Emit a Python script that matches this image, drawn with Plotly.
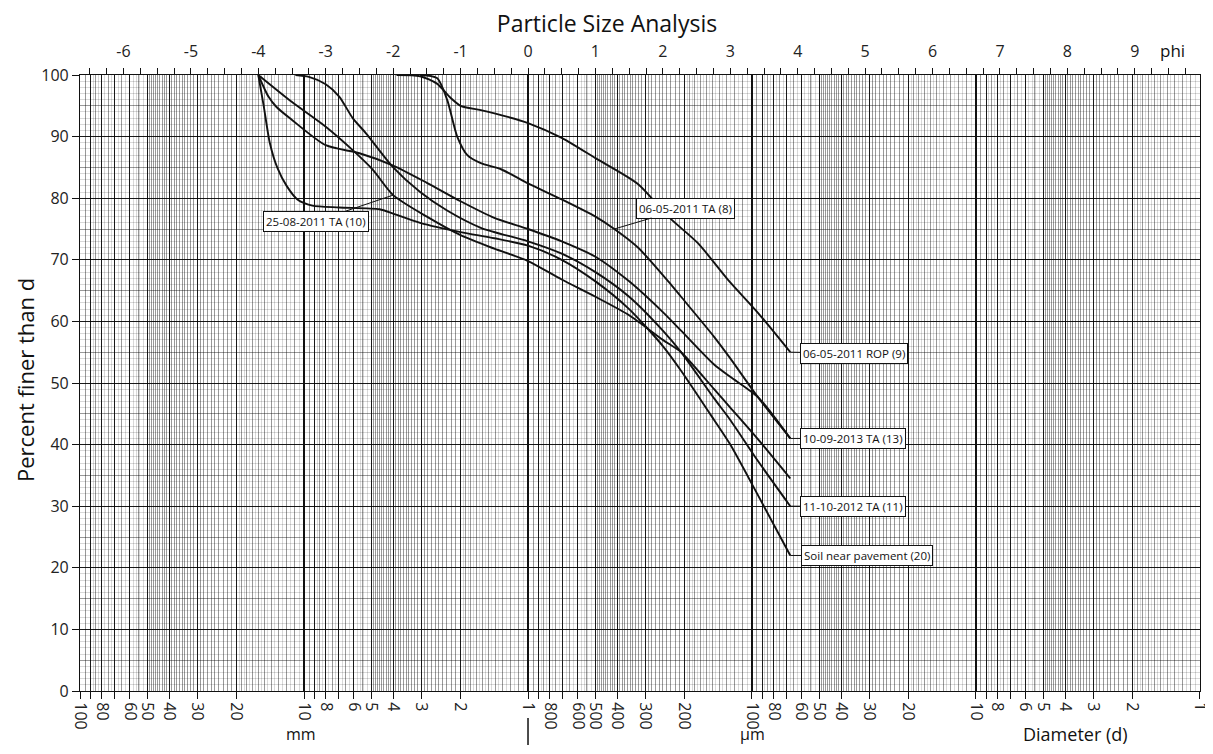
import math
import plotly.graph_objects as go

# ---------------- data: (phi, percent finer) ----------------
rop9_phi = [-1.95, -1.6, -1.35, -1.15, -1.0, -0.7, -0.3, 0.0, 0.5, 1.0, 1.63, 2.08, 2.52, 2.97, 3.41, 3.89]
rop9_pct = [100, 99.8, 98.6, 96.3, 95.0, 94.3, 93.2, 92.2, 89.8, 86.5, 82.3, 77.0, 72.7, 66.7, 61.4, 55.0]

ta8_phi = [-1.6, -1.35, -1.2, -1.05, -0.9, -0.7, -0.4, 0.0, 0.5, 1.0, 1.28, 1.63, 2.08, 2.27, 2.76, 3.0, 3.41, 3.89]
ta8_pct = [100, 99.5, 96, 90, 87, 85.7, 84.7, 82.4, 79.8, 77, 75, 72, 66.5, 64, 57.5, 54, 47.7, 41]

ta13_phi = [-4, -3.85, -3.73, -3.5, -3.0, -2.5, -2.0, -1.5, -1.0, -0.5, 0, 0.5, 1.0, 1.5, 2.0, 2.27, 2.76, 3.0, 3.41, 3.89]
ta13_pct = [100, 96.5, 94.8, 92.7, 88.6, 87.3, 85.3, 82.5, 79.5, 76.8, 75, 73, 70.5, 66.5, 61.5, 58.5, 53, 51, 47.7, 41]

ta10_phi = [-4, -3.5, -3.0, -2.6, -2.3, -2.0, -1.5, -1.0, -0.5, 0, 0.5, 1.0, 1.5, 2.0, 2.27, 2.76, 3.0, 3.4, 3.89]
ta10_pct = [100, 95.6, 91.6, 87.8, 84.6, 80.5, 77, 74, 71.8, 69.8, 66.8, 64, 61, 57, 55, 49, 46, 41, 34.5]

ta11_phi = [-3.45, -3.25, -3.0, -2.8, -2.6, -2.4, -2.0, -1.6, -1.2, -0.7, 0, 0.5, 1.0, 1.5, 2.0, 2.27, 2.76, 3.0, 3.4, 3.89]
ta11_pct = [100, 99.7, 98.5, 96.5, 93, 90.5, 85, 81, 78, 75.2, 73, 71, 68, 64, 58.5, 55, 47.5, 44, 37.5, 30]

soil20_phi = [-4, -3.92, -3.83, -3.72, -3.58, -3.42, -3.2, -2.8, -2.2, -2.0, -1.6, -1.0, -0.5, 0, 0.5, 1.0, 1.5, 2.0, 2.27, 2.76, 3.0, 3.4, 3.89]
soil20_pct = [100, 95, 89, 85, 82, 79.8, 78.8, 78.5, 78.2, 77.5, 76, 74.5, 73.5, 72.3, 70, 66.5, 62, 56, 52, 44, 40, 32, 22]

curves = [
    (rop9_phi, rop9_pct),
    (ta8_phi, ta8_pct),
    (ta13_phi, ta13_pct),
    (ta10_phi, ta10_pct),
    (ta11_phi, ta11_pct),
    (soil20_phi, soil20_pct),
]

# bottom axis (diameter, mm) tick values and labels
d_tickvals = [100, 90, 80, 70, 60, 50, 40, 30, 20,
              10, 9, 8, 7, 6, 5, 4, 3, 2,
              1, 0.9, 0.8, 0.7, 0.6, 0.5, 0.4, 0.3, 0.2,
              0.1, 0.09, 0.08, 0.07, 0.06, 0.05, 0.04, 0.03, 0.02,
              0.01, 0.009, 0.008, 0.007, 0.006, 0.005, 0.004, 0.003, 0.002, 0.001]
d_ticktext = ["100", "", "80", "", "60", "50", "40", "30", "20",
              "10", "", "8", "", "6", "5", "4", "3", "2",
              "1", "", "800", "", "600", "500", "400", "300", "200",
              "100", "", "80", "", "60", "50", "40", "30", "20",
              "10", "", "8", "", "6", "5", "4", "3", "2", "1"]

# top axis (phi) tick values
phi_ticks = [i * 0.25 for i in range(-26, 40)]
phi_text = [str(int(v)) if float(v).is_integer() else "" for v in phi_ticks]

# labels on the curves: text, phi, percent, offset x, offset y (px)
labels = [
    ("06-05-2011 ROP (9)", 3.89, 55.0, 64, 1),
    ("10-09-2013 TA (13)", 3.89, 41.0, 63, 0),
    ("11-10-2012 TA (11)", 3.89, 30.0, 63, 0),
    ("Soil near pavement (20)", 3.89, 22.0, 77, 0),
    ("25-08-2011 TA (10)", -2.0, 80.5, -77, 26),
    ("06-05-2011 TA (8)", 1.28, 75.0, 71, -21),
]

# ---------------- grid value lists ----------------
decades = [100, 10, 1, 0.1, 0.01, 0.001]
medium, light = [], []
for e in [1, 0, -1, -2, -3]:
    b = 10.0 ** e
    for i in range(11, 50):            # 1.1 .. 4.9 every 0.1
        if i % 10 != 0:
            medium.append(round(i / 10 * b, 8))
    for i in range(55, 100, 10):       # 5.5 .. 9.5
        medium.append(round(i / 10 * b, 8))
    for i in range(21, 40, 2):         # 1.05 .. 1.95
        light.append(round(i / 20 * b, 8))
    for v in [5.2, 5.4, 5.6, 5.8, 6.25, 6.75, 7.25, 7.75, 8.25, 8.75]:
        light.append(round(v * b, 8))
light = [v for v in light if v <= 100]
medium = [v for v in medium if v <= 100]

y_med = [v for v in range(5, 100, 10)]
y_light = [v for v in range(1, 100) if v % 5 != 0]

FONT = "Open Sans"
INK = "#111111"
G_BLACK = "rgba(0,0,0,0.9)"
G_MED = "rgba(0,0,0,0.40)"
G_LIGHT = "rgba(0,0,0,0.15)"
EPS = 2e-4
LOGR = [2 + EPS, -3 - EPS]
PHIR = [-LOGR[0] * math.log2(10), -LOGR[1] * math.log2(10)]

# page body has an 8px margin: size the figure so the plot box lands at x 80..1200, y 75..691
W, H = 1205, 738
ML, MR, MT, MB = 72, 13, 67, 55
PW, PH = W - ML - MR, H - MT - MB

fig = go.Figure()
for xa, ya in [("x", "y"), ("x3", "y"), ("x4", "y"), ("x5", "y"), ("x", "y2"), ("x", "y3")]:
    fig.add_trace(go.Scatter(x=[], y=[], xaxis=xa, yaxis=ya, showlegend=False, hoverinfo="skip"))
for phi, pct in curves:
    fig.add_trace(go.Scatter(
        x=phi, y=pct, xaxis="x2", yaxis="y", mode="lines",
        line=dict(color=INK, width=1.9, shape="spline", smoothing=0.7),
        showlegend=False, hoverinfo="skip"))

grid_ax = dict(type="log", range=LOGR, overlaying="x", anchor="y", automargin=False,
               showticklabels=False, ticks="", showline=False, zeroline=False)

fig.update_layout(
    width=W, height=H,
    margin=dict(l=ML, r=MR, t=MT, b=MB),
    paper_bgcolor="white", plot_bgcolor="white",
    showlegend=False,
    title=dict(text="Particle Size Analysis", x=(607 - 8) / W, xanchor="center",
               y=1 - 16 / H, yanchor="middle", font=dict(family=FONT, size=23, color=INK)),
    xaxis=dict(type="log", range=LOGR, tickmode="array", tickvals=d_tickvals, ticktext=d_ticktext,
               tickangle=90, ticks="outside", ticklen=7, tickwidth=1, tickcolor=INK,
               showgrid=True, gridcolor=G_BLACK, gridwidth=1, automargin=False,
               ticklabeloverflow="allow",
               showline=True, linecolor=INK, linewidth=1.2, mirror=True, zeroline=False,
               tickfont=dict(family=FONT, size=16, color="#222"), anchor="y", side="bottom"),
    xaxis2=dict(overlaying="x", side="top", range=PHIR, anchor="y", tickmode="array",
                tickvals=phi_ticks, ticktext=phi_text, ticks="outside", ticklen=6, tickwidth=1,
                ticklabelstandoff=5,
                tickcolor=INK, showgrid=False, zeroline=False, showline=True, linecolor=INK,
                linewidth=1.2, automargin=False, tickfont=dict(family=FONT, size=16, color="#222")),
    xaxis3=dict(grid_ax, tickvals=light, tickmode="array", showgrid=True, gridcolor=G_LIGHT, gridwidth=1),
    xaxis4=dict(grid_ax, tickvals=medium, tickmode="array", showgrid=True, gridcolor=G_MED, gridwidth=1),
    xaxis5=dict(grid_ax, tickvals=decades, tickmode="array", showgrid=True, gridcolor=INK, gridwidth=2.2),
    yaxis=dict(range=[0, 100], tickmode="array", tickvals=list(range(0, 101, 10)), ticks="outside",
               ticklen=7, tickcolor=INK, showgrid=True, gridcolor=G_BLACK, gridwidth=1, automargin=False,
               showline=True, linecolor=INK, linewidth=1.2, mirror=True, zeroline=False,
               tickfont=dict(family=FONT, size=16, color="#222"), anchor="x"),
    yaxis2=dict(range=[0, 100], overlaying="y", anchor="x", tickmode="array", tickvals=y_light,
                automargin=False, showticklabels=False, ticks="", showgrid=True,
                gridcolor=G_LIGHT, zeroline=False),
    yaxis3=dict(range=[0, 100], overlaying="y", anchor="x", tickmode="array", tickvals=y_med,
                automargin=False, showticklabels=False, ticks="", showgrid=True,
                gridcolor=G_MED, zeroline=False),
)


def px_x(px):
    return (px - 8 - ML) / PW


def px_y(py):
    return (H - MB - (py - 8)) / PH


def caption(text, px, py, size, angle=0):
    fig.add_annotation(text=text, xref="paper", yref="paper", x=px_x(px), y=px_y(py),
                       xanchor="center", yanchor="middle", textangle=angle, showarrow=False,
                       font=dict(family=FONT, size=size, color=INK))


caption("Percent finer than d", 25, 380, 22, -90)
caption("mm", 301, 734, 16)
caption("µm", 752, 734, 16)
caption("Diameter (d)", 1075, 734, 18)
caption("phi", 1172, 50, 17)

# separator bar under 1 mm
fig.add_shape(type="line", xref="x2", yref="paper", x0=0, x1=0, y0=px_y(718), y1=px_y(745),
              line=dict(color=INK, width=1.5))

for text, px, py, ax, ay in labels:
    fig.add_annotation(text=text, x=px, y=py, xref="x2", yref="y", showarrow=True,
                       arrowhead=0, arrowwidth=1, arrowcolor=INK, ax=ax, ay=ay, standoff=0,
                       bgcolor="white", bordercolor=INK, borderwidth=1, borderpad=2,
                       font=dict(family=FONT, size=11.5, color=INK))

fig.write_html("out.html")
